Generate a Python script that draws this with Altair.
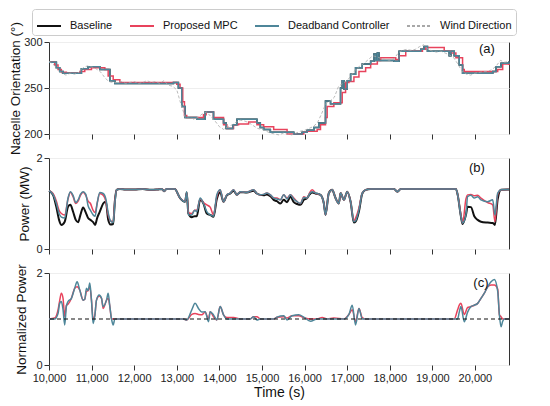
import altair as alt
import pandas as pd

FONT = "Liberation Sans"
SERIES = ["Baseline", "Proposed MPC", "Deadband Controller", "Wind Direction"]
COLORS = ["#111111", "#e8435c", "#4e8699", "#a8a8a8"]
DASHES = [[1, 0], [1, 0], [1, 0], [3, 2]]
X_TICKS = list(range(10000, 20001, 1000))

# ---------------- Panel (a): nacelle orientation (step series) ----------------
A_MPC_T = [10000, 10133, 10212, 10290, 10408, 10722, 10840, 10997, 11311, 11389, 11507, 11664,
           12999, 13077, 13140, 13180, 13234, 13627, 13690, 13862, 14098, 14176, 14333, 14451,
           14686, 14882, 15040, 15275, 15590, 15982, 16060, 16296, 16374, 16492, 16531, 16688,
           16884, 16963, 17041, 17159, 17277, 17434, 17552, 17709, 17787, 18140, 18219, 18376,
           18768, 18847, 19279, 19436, 19553, 19710, 19750, 20535, 20652, 20800]
A_MPC_V = [278, 275, 270, 267, 266, 268, 270, 272, 270, 263, 259, 256,
           254, 250, 235, 220, 218, 221, 224, 218, 210, 206, 210, 211,
           213, 210, 208, 205, 200, 202, 203, 205, 210, 218, 230, 234,
           245, 256, 257, 262, 268, 272, 276, 280, 283, 281, 285, 290,
           292, 294, 290, 288, 283, 270, 268, 270, 276, 275]

A_DB_T = [10000, 10094, 10173, 10251, 10330, 10722, 10761, 10918, 11193, 11429, 11546, 12921,
          13038, 13117, 13195, 13470, 13666, 13862, 14098, 14160, 14317, 14412, 14882, 14961,
          15040, 15197, 15746, 15943, 16060, 16217, 16335, 16492, 16610, 16845, 16884, 16924,
          17002, 17081, 17198, 17355, 17552, 17630, 17670, 17709, 17748, 18101, 18219, 18729,
          18807, 18886, 19396, 19436, 19514, 19632, 19710, 20417, 20496, 20613, 20800]
A_DB_V = [278, 278, 272, 268, 266, 266, 271, 273, 270, 258, 255, 256,
          250, 230, 218, 216, 224, 216, 212, 206, 210, 216, 212, 207,
          205, 202, 200, 202, 204, 207, 212, 236, 233, 250, 258, 249,
          258, 265, 272, 276, 279, 287, 280, 288, 280, 279, 290, 292,
          295, 290, 285, 290, 285, 275, 266, 268, 273, 277, 279]

A_BASE_T = list(A_DB_T)
A_BASE_V = list(A_DB_V)

WIND_T = list(range(10000, 20801, 100))
WIND_V = [279, 276, 270, 266, 264, 266, 265, 267, 272, 274, 273, 271, 268, 262, 257, 256,
          256, 257, 255, 256, 257, 255, 256, 258, 256, 257, 255, 258, 253, 252, 248, 232,
          218, 219, 216, 218, 222, 224, 219, 214, 208, 205, 208, 210, 213, 215, 214, 212,
          209, 206, 205, 203, 201, 200, 199, 201, 200, 199, 201, 203, 204, 206, 208, 212,
          222, 233, 236, 240, 252, 255, 258, 264, 270, 274, 277, 281, 285, 284, 282, 281,
          280, 282, 288, 291, 292, 291, 292, 295, 297, 292, 290, 289, 290, 288, 286, 283,
          276, 268, 265, 264, 266, 267, 268, 268, 270, 274, 280, 278, 279]

# ---------------- Panel (b): power (MW) ----------------
B_T = [10000, 10094, 10173, 10236, 10290, 10369, 10447, 10502, 10565, 10628, 10683, 10738,
       10801, 10864, 10918, 10973, 11036, 11083, 11130, 11193, 11272, 11335, 11389, 11444,
       11507, 11546, 11586, 11664, 11800, 12000, 12200, 12400, 12550, 12650, 12700, 12760,
       12950, 13077, 13195, 13234, 13273, 13352, 13420, 13470, 13548, 13627, 13705, 13784,
       13862, 13940, 14019, 14098, 14176, 14255, 14333, 14412, 14490, 14647, 14804, 14880,
       14961, 15040, 15118, 15197, 15275, 15350, 15432, 15511, 15589, 15668, 15746, 15825,
       15903, 15982, 16060, 16120, 16178, 16257, 16374, 16453, 16492, 16570, 16649, 16727,
       16806, 16845, 16924, 17002, 17081, 17159, 17198, 17277, 17355, 17434, 17552, 18101,
       18180, 18258, 19553, 19593, 19671, 19710, 19789, 19828, 19907, 19985, 20064, 20142,
       20299, 20417, 20470, 20535, 20613, 20770, 20800]
B_BASE = [1.28, 1.19, 0.92, 0.64, 0.53, 0.60, 0.93, 0.97, 0.82, 0.64, 0.59, 0.75,
          0.91, 0.80, 0.68, 0.64, 0.59, 0.53, 0.68, 0.82, 1.00, 1.04, 0.65, 0.54,
          0.55, 1.05, 1.30, 1.32, 1.31, 1.31, 1.32, 1.30, 1.31, 1.32, 1.27, 1.32,
          1.32, 1.12, 1.04, 1.24, 0.78, 0.70, 0.72, 0.72, 1.08, 1.00, 0.78, 0.75,
          0.71, 1.10, 1.25, 1.04, 1.18, 1.22, 1.28, 1.19, 1.25, 1.24, 1.28, 1.22,
          1.19, 1.18, 1.20, 1.16, 1.08, 1.05, 1.00, 1.08, 1.03, 1.15, 1.03, 0.99,
          0.97, 1.08, 1.12, 1.20, 1.24, 1.22, 1.19, 1.00, 0.75, 1.23, 1.30, 1.12,
          1.00, 1.23, 1.08, 1.26, 1.04, 0.58, 0.60, 0.83, 1.22, 1.30, 1.32, 1.32,
          1.26, 1.32, 1.32, 1.20, 0.72, 0.55, 0.75, 0.93, 0.92, 0.72, 0.64, 0.60,
          0.58, 0.57, 0.53, 1.10, 1.30, 1.31, 1.31]
B_MPC = [1.28, 1.22, 1.05, 0.85, 0.78, 0.75, 1.10, 1.25, 1.15, 1.00, 1.05, 1.18,
         1.25, 1.18, 1.05, 1.00, 0.85, 0.80, 1.00, 1.22, 1.18, 1.05, 0.75, 0.62,
         0.60, 1.05, 1.30, 1.32, 1.31, 1.31, 1.32, 1.30, 1.31, 1.32, 1.27, 1.32,
         1.32, 1.12, 1.05, 1.24, 0.80, 0.78, 0.85, 0.85, 1.10, 1.02, 0.97, 0.92,
         0.75, 1.15, 1.30, 1.04, 1.19, 1.23, 1.30, 1.19, 1.26, 1.25, 1.30, 1.22,
         1.19, 1.20, 1.23, 1.19, 1.12, 1.12, 1.08, 1.19, 1.12, 1.19, 1.12, 1.04,
         1.00, 1.15, 1.12, 1.24, 1.30, 1.23, 1.19, 1.00, 0.75, 1.23, 1.30, 1.12,
         1.00, 1.23, 1.08, 1.26, 1.04, 0.62, 0.68, 0.90, 1.23, 1.30, 1.32, 1.32,
         1.26, 1.32, 1.32, 1.20, 0.75, 0.57, 1.10, 1.19, 1.20, 1.17, 1.18, 1.12,
         1.02, 0.97, 0.60, 1.20, 1.30, 1.31, 1.31]
B_DB = [1.28, 1.20, 1.00, 0.78, 0.70, 0.68, 1.12, 1.26, 1.18, 1.02, 1.08, 1.20,
        1.26, 1.20, 0.95, 0.85, 0.75, 0.72, 1.00, 1.24, 1.22, 1.10, 0.80, 0.62,
        0.58, 1.00, 1.30, 1.32, 1.31, 1.31, 1.32, 1.30, 1.31, 1.32, 1.27, 1.32,
        1.32, 1.12, 1.04, 1.26, 0.75, 0.75, 0.85, 0.82, 1.12, 1.00, 0.82, 0.75,
        0.72, 1.19, 1.30, 1.04, 1.19, 1.23, 1.30, 1.19, 1.26, 1.25, 1.30, 1.22,
        1.19, 1.20, 1.23, 1.19, 1.12, 1.10, 1.08, 1.19, 1.10, 1.19, 1.10, 1.04,
        1.00, 1.13, 1.12, 1.22, 1.26, 1.23, 1.19, 1.00, 0.75, 1.23, 1.30, 1.12,
        1.00, 1.23, 1.08, 1.26, 1.04, 0.60, 0.62, 0.86, 1.23, 1.30, 1.32, 1.32,
        1.26, 1.32, 1.32, 1.20, 0.72, 0.57, 0.75, 1.15, 1.18, 1.12, 1.15, 1.08,
        1.04, 1.08, 0.75, 1.23, 1.30, 1.31, 1.31]

# ---------------- Panel (c): normalized power ----------------
C_T = [10000, 10133, 10212, 10251, 10290, 10330, 10369, 10408, 10447, 10526, 10604, 10660,
       10722, 10801, 10840, 10879, 10918, 10958, 10997, 11036, 11075, 11115, 11178, 11233,
       11272, 11350, 11389, 11429, 11468, 11507, 11546, 13156, 13234, 13352, 13430, 13509,
       13587, 13666, 13745, 13784, 13862, 13941, 14019, 14098, 14176, 14333, 14490, 14726,
       14804, 14882, 14961, 15275, 15354, 15511, 15589, 15707, 15864, 15982, 16139, 16296,
       16414, 16531, 16688, 16924, 17041, 17120, 17198, 17277, 17355, 17434, 19514, 19593,
       19632, 19671, 19750, 19828, 19907, 19985, 20064, 20142, 20221, 20299, 20378, 20456,
       20535, 20574, 20613, 20652, 20692, 20800]
C_MPC = [1.00, 1.02, 1.20, 1.40, 1.56, 1.45, 1.05, 1.30, 1.32, 1.45, 1.67, 1.70,
         1.63, 1.41, 1.43, 1.60, 1.62, 1.70, 1.41, 1.00, 1.07, 1.41, 1.50, 1.45,
         1.23, 1.41, 1.45, 1.27, 1.00, 1.00, 1.00, 1.00, 0.98, 1.10, 1.12, 1.10,
         1.09, 1.15, 1.00, 1.16, 1.05, 0.98, 1.27, 1.09, 1.03, 1.03, 1.00, 1.00,
         1.05, 1.05, 1.00, 1.00, 1.04, 1.05, 1.02, 1.07, 1.07, 1.03, 1.00, 1.00,
         1.03, 1.00, 1.02, 1.00, 1.10, 1.20, 0.94, 1.23, 1.03, 1.00, 1.00, 1.20,
         1.30, 1.34, 1.10, 1.25, 1.27, 1.30, 1.34, 1.45, 1.56, 1.70, 1.74, 1.74,
         1.65, 1.09, 1.05, 1.00, 1.00, 1.00]
C_DB = [1.00, 1.00, 1.12, 1.34, 1.38, 1.20, 0.87, 1.27, 1.38, 1.45, 1.67, 1.81,
        1.63, 1.41, 1.43, 1.67, 1.62, 1.78, 1.41, 0.90, 1.07, 1.41, 1.52, 1.45,
        1.27, 1.41, 1.56, 1.27, 1.00, 0.87, 1.00, 1.00, 0.98, 1.20, 1.34, 1.23,
        1.15, 1.16, 0.94, 1.16, 1.09, 0.98, 1.27, 1.09, 1.00, 1.00, 1.00, 1.00,
        1.05, 0.98, 1.00, 1.00, 1.04, 1.07, 0.98, 1.07, 1.09, 1.04, 0.95, 1.00,
        1.00, 1.00, 1.00, 1.00, 1.10, 1.30, 0.87, 1.23, 1.00, 1.00, 1.00, 1.00,
        1.15, 1.27, 0.94, 1.15, 1.27, 1.30, 1.34, 1.45, 1.56, 1.70, 1.81, 1.86,
        1.60, 1.10, 0.83, 0.95, 1.00, 1.00]

PANEL_TAGS = ["(a)", "(b)", "(c)"]
TAG_T = [20282, 20047, 20141]
TAG_V = [292, 1.79, 1.78]


def frame(t, v, name):
    return pd.DataFrame({"t": t, "v": v, "series": name})


color_scale = alt.Scale(domain=SERIES, range=COLORS)
dash_scale = alt.Scale(domain=SERIES, range=DASHES)

LEGEND = alt.Legend(
    title=None, orient="none", legendX=-17, legendY=-33, direction="horizontal",
    columns=4, symbolType="stroke", symbolSize=576, symbolStrokeWidth=2,
    labelFontSize=11, labelFont=FONT, labelColor="#111", labelOffset=8,
    columnPadding=13, padding=4, strokeColor="#cccccc", cornerRadius=3,
    fillColor="white", symbolLimit=10, offset=0,
)

PANEL_W = 460


def x_enc(show):
    if show:
        ax = alt.Axis(values=X_TICKS, format=",d", title="Time (s)", grid=False,
                      titleFontSize=14, titlePadding=2, labelOverlap=False, labelFlush=False)
    else:
        ax = alt.Axis(values=X_TICKS, labels=False, title=None, grid=False)
    return alt.X("t:Q", scale=alt.Scale(domain=[10000, 20800], nice=False, zero=False), axis=ax)


def y_enc(domain, values, title, tpad):
    return alt.Y("v:Q", scale=alt.Scale(domain=domain, nice=False, zero=False),
                 axis=alt.Axis(values=values, format="d", title=title, grid=True,
                               titlePadding=tpad))


def series_line(df, width, interp, xs, ys, legend):
    enc = dict(
        x=xs, y=ys,
        color=alt.Color("series:N", scale=color_scale, legend=legend),
    )
    if legend is not None:
        enc["strokeDash"] = alt.StrokeDash("series:N", scale=dash_scale, legend=legend)
    return alt.Chart(df).mark_line(strokeWidth=width, interpolate=interp).encode(**enc)


def tag(i, xs, ys):
    df = pd.DataFrame({"t": [TAG_T[i]], "v": [TAG_V[i]], "label": [PANEL_TAGS[i]]})
    return alt.Chart(df).mark_text(font=FONT, fontSize=13, color="#111").encode(
        x=xs, y=ys, text="label:N")


# Panel (a)
xa = x_enc(False)
ya = y_enc([200, 300], [200, 250, 300], "Nacelle Orientation (°)", 1)
panel_a = alt.layer(
    series_line(frame(A_BASE_T, A_BASE_V, "Baseline"), 1.5, "step-after", xa, ya, LEGEND),
    series_line(frame(A_MPC_T, A_MPC_V, "Proposed MPC"), 1.5, "step-after", xa, ya, LEGEND),
    series_line(frame(A_DB_T, A_DB_V, "Deadband Controller"), 1.5, "step-after", xa, ya, LEGEND),
    series_line(frame(WIND_T, WIND_V, "Wind Direction"), 0.8, "linear", xa, ya, LEGEND),
    tag(0, xa, ya),
).properties(width=PANEL_W, height=92)

# Panel (b)
xb = x_enc(False)
yb = y_enc([0, 2], [0, 1, 2], "Power (MW)", 4)
panel_b = alt.layer(
    series_line(frame(B_T, B_BASE, "Baseline"), 2, "monotone", xb, yb, None),
    series_line(frame(B_T, B_MPC, "Proposed MPC"), 1.5, "monotone", xb, yb, None),
    series_line(frame(B_T, B_DB, "Deadband Controller"), 1.5, "monotone", xb, yb, None),
    tag(1, xb, yb),
).properties(width=PANEL_W, height=91)

# Panel (c)
xc = x_enc(True)
yc = y_enc([0, 2], [0, 1, 2], "Normalized Power", 7)
ref_line = alt.Chart(pd.DataFrame({"v": [1]})).mark_rule(
    color="#111", strokeDash=[4, 3], strokeWidth=1).encode(y=alt.Y("v:Q"))
panel_c = alt.layer(
    series_line(frame(C_T, C_MPC, "Proposed MPC"), 1.5, "monotone", xc, yc, None),
    series_line(frame(C_T, C_DB, "Deadband Controller"), 1.5, "monotone", xc, yc, None),
    ref_line,
    tag(2, xc, yc),
).properties(width=PANEL_W, height=92)

chart = alt.vconcat(panel_a, panel_b, panel_c, spacing=24, bounds="flush").resolve_scale(
    color="independent", strokeDash="independent"
).resolve_legend(color="independent", strokeDash="independent").properties(
    padding=0, background="white"
).configure_view(stroke="#333333", strokeWidth=1).configure_axis(
    labelFont=FONT, titleFont=FONT, labelFontSize=11, titleFontSize=13.5,
    labelColor="#222222", titleColor="#111111", tickColor="#333333", tickSize=5,
    domain=False, gridColor="#eeeeee", titleFontWeight="normal", labelPadding=2,
)

chart.save("out.html", embed_options={"renderer": "svg", "actions": False})
